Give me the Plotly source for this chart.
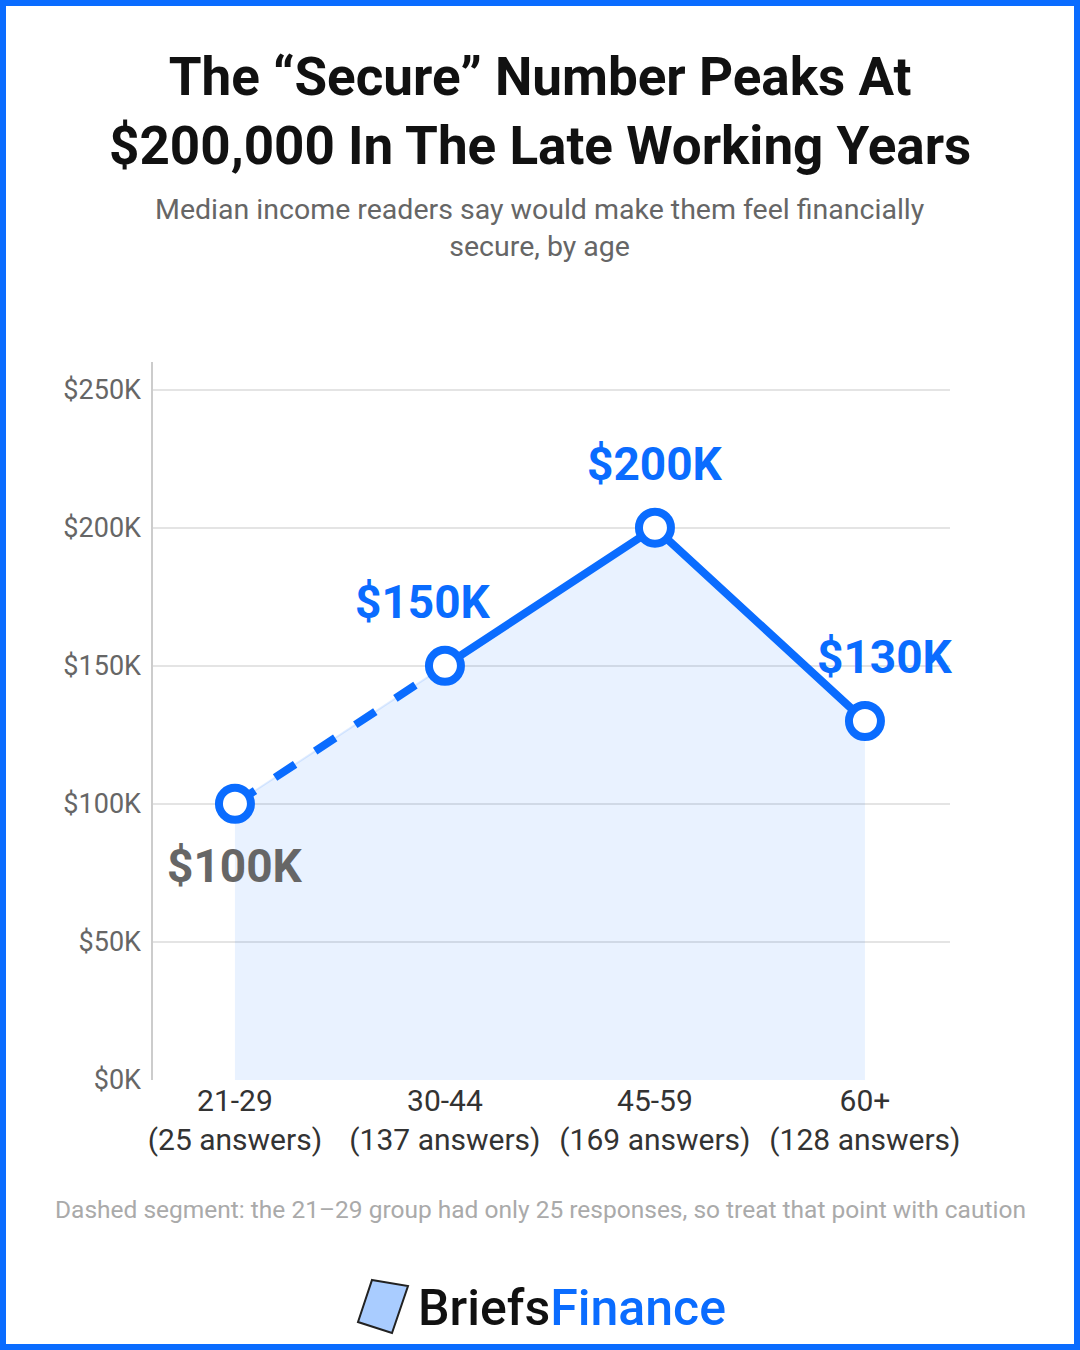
import plotly.graph_objects as go

ages = ["21-29<br>(25 answers)", "30-44<br>(137 answers)", "45-59<br>(169 answers)", "60+<br>(128 answers)"]
values = [100, 150, 200, 130]
labels = ["$100K", "$150K", "$200K", "$130K"]
tick_vals = [0, 50, 100, 150, 200, 250]
tick_text = ["$0K", "$50K", "$100K", "$150K", "$200K", "$250K"]

W, H = 1080, 1350
L, R, T, B = 152, 130, 362, 270
BLUE = "#0A6CFF"

def px(x):
    return (x - L) / (W - L - R)

def py(y):
    return (H - B - y) / (H - T - B)

fig = go.Figure()

# shaded area under the line
fig.add_trace(go.Scatter(x=ages, y=values, mode="lines", fill="tozeroy",
                         fillcolor="rgba(10,108,255,0.09)",
                         line=dict(color="rgba(10,108,255,0.12)", width=2),
                         hoverinfo="skip", showlegend=False))
fig.add_trace(go.Scatter(x=ages[:2], y=values[:2], mode="lines",
                         line=dict(color=BLUE, width=8, dash="dash"), showlegend=False))
fig.add_trace(go.Scatter(x=ages[1:], y=values[1:], mode="lines",
                         line=dict(color=BLUE, width=8), showlegend=False))
fig.add_trace(go.Scatter(x=ages, y=values, mode="markers",
                         marker=dict(size=32, color="white", line=dict(color=BLUE, width=8)),
                         showlegend=False))

offsets = [(0, -62), (-22, 64), (0, 64), (20, 64)]
colors = ["#666666", BLUE, BLUE, BLUE]
for a, v, lab, (dx, dy), c in zip(ages, values, labels, offsets, colors):
    fig.add_annotation(x=a, y=v, text=f"<b>{lab}</b>", showarrow=False, xshift=dx, yshift=dy,
                       font=dict(size=46, color=c, family="Roboto"))

# title and notes
fig.add_annotation(x=px(540), y=py(112), xref="paper", yref="paper", showarrow=False,
                   text="<b>The “Secure” Number Peaks At<br>$200,000 In The Late Working Years</b>",
                   font=dict(size=53, color="#111111", family="Roboto"), yanchor="middle")
fig.add_annotation(x=px(540), y=py(228), xref="paper", yref="paper", showarrow=False,
                   text="Median income readers say would make them feel financially<br>secure, by age",
                   font=dict(size=28.5, color="#666666", family="Roboto"), yanchor="middle")
fig.add_annotation(x=px(540), y=py(1209), xref="paper", yref="paper", showarrow=False,
                   text="Dashed segment: the 21–29 group had only 25 responses, so treat that point with caution",
                   font=dict(size=24.5, color="#aaaaaa", family="Roboto"), yanchor="middle")
fig.add_annotation(x=px(416), y=py(1308), xref="paper", yref="paper", showarrow=False,
                   xanchor="left", yanchor="middle",
                   text="<span style='color:#111111'>Briefs</span><span style='color:#0A6CFF'>Finance</span>",
                   font=dict(size=50, family="Roboto", weight=500))

shapes = [
    dict(type="rect", xref="paper", yref="paper", x0=px(3), x1=px(W - 3), y0=py(H - 3), y1=py(3),
         line=dict(color=BLUE, width=6), layer="above"),
    dict(type="line", xref="paper", yref="paper", x0=0, x1=0, y0=0, y1=1,
         line=dict(color="#cccccc", width=2)),
    # simple logo icon
    dict(type="path", xref="paper", yref="paper",
         path=f"M {px(372)} {py(1280)} L {px(408)} {py(1286)} L {px(392)} {py(1333)} L {px(358)} {py(1322)} Z",
         fillcolor="rgba(10,108,255,0.35)", line=dict(color="#222222", width=2)),
]
fig.update_layout(
    width=W, height=H, margin=dict(l=L, r=R, t=T, b=B),
    paper_bgcolor="white", plot_bgcolor="white", shapes=shapes,
    font=dict(family="Roboto"),
    xaxis=dict(range=[-0.395, 3.405], showgrid=False, zeroline=False, ticks="",
               tickfont=dict(size=30, color="#333333")),
    yaxis=dict(range=[0, 260], tickvals=tick_vals, ticktext=tick_text, showgrid=True,
               gridcolor="#e4e4e4", gridwidth=1.5, zeroline=False, ticklabelstandoff=10,
               tickfont=dict(size=27, color="#666666")),
)
fig.write_html("out.html", config={"displayModeBar": False},
               post_script="document.body.style.margin='0';")
